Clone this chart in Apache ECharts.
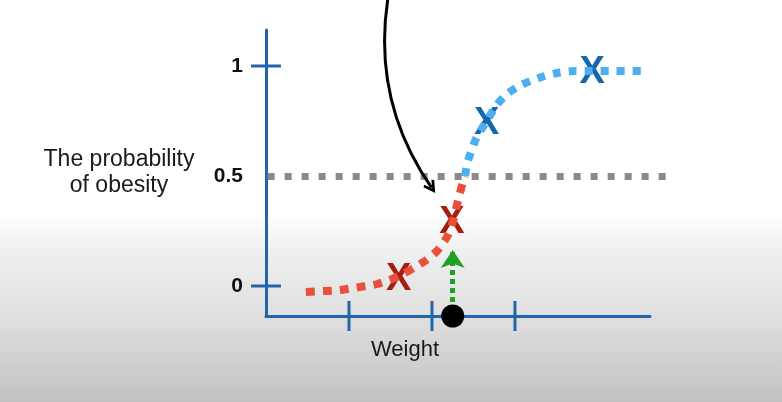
<!DOCTYPE html>
<html>
<head>
<meta charset="utf-8">
<script src="https://cdn.jsdelivr.net/npm/echarts@6/dist/echarts.min.js"></script>
<style>
  html, body { margin: 0; padding: 0; }
  #chart { width: 782px; height: 402px; }
</style>
</head>
<body>
<div id="chart"></div>
<script>
// fitted logistic curve, split at the 0.5 threshold
const redCurve = [
  [0.48, -0.027], [0.70, -0.023], [0.90, -0.018], [1.12, -0.005], [1.34, 0.009],
  [1.60, 0.045], [1.88, 0.105], [2.05, 0.155], [2.18, 0.223], [2.25, 0.291],
  [2.31, 0.382], [2.37, 0.468], [2.40, 0.50]
];
const blueCurve = [
  [2.40, 0.50], [2.42, 0.55], [2.47, 0.609], [2.54, 0.677], [2.66, 0.75],
  [2.78, 0.823], [2.92, 0.877], [3.08, 0.914], [3.28, 0.945], [3.51, 0.968],
  [3.72, 0.977], [3.93, 0.977], [4.14, 0.977], [4.59, 0.977]
];
// samples (X marks)
const notObese = [[1.60, 0.045], [2.24, 0.30]];
const obese = [[2.66, 0.75], [3.93, 0.982]];

const yLabels = [0, 0.5, 1];
const yTicks = [0, 1];
const xTicks = [1, 2, 3];
const threshold = 0.5;
const thresholdSpan = [0.02, 4.9];
const newWeight = 2.25;

const xMin = 0, xMax = 4.627;
const yMin = -0.1364, yMax = 1.1636;

// decoration arrows, in data units
const pointerArrow = [[1.47, 1.31], [1.995, 0.447]];
const liftArrow = [[newWeight, -0.073], [newWeight, 0.164]];

const axisBlue = '#1f67a8';
const font = '"Liberation Sans", Arial, sans-serif';

const chart = echarts.init(document.getElementById('chart'));

const xMark = (data, color) => ({
  type: 'scatter',
  data: data,
  symbolSize: 1,
  itemStyle: { color: 'transparent', opacity: 1 },
  label: {
    show: true, position: 'inside', formatter: 'X', offset: [0, 3],
    fontSize: 38, fontWeight: 'bold', color: color
  }
});

chart.setOption({
  animation: false,
  backgroundColor: {
    type: 'linear', x: 0, y: 0, x2: 0, y2: 1,
    colorStops: [
      { offset: 0, color: '#ffffff' },
      { offset: 0.53, color: '#ffffff' },
      { offset: 0.62, color: '#f0f0f0' },
      { offset: 0.78, color: '#e0e0e0' },
      { offset: 1, color: '#c2c2c2' }
    ]
  },
  textStyle: { fontFamily: font },
  grid: { left: 266, right: 132, top: 30, bottom: 86 },
  xAxis: {
    type: 'value',
    min: xMin,
    max: xMax,
    name: 'Weight',
    nameLocation: 'middle',
    nameGap: 23,
    nameTextStyle: { fontSize: 22, color: '#1a1a1a', padding: [0, 106, 0, 0] },
    axisLine: { onZero: false, lineStyle: { color: axisBlue, width: 3 } },
    axisTick: { show: false },
    axisLabel: { show: false },
    splitLine: { show: false }
  },
  yAxis: {
    type: 'value',
    min: yMin,
    max: yMax,
    name: 'The probability\nof obesity',
    nameLocation: 'middle',
    nameRotate: 0,
    nameGap: 147,
    nameTextStyle: { fontSize: 23, lineHeight: 26, color: '#1a1a1a', align: 'center' },
    axisLine: { show: true, lineStyle: { color: axisBlue, width: 3 } },
    axisTick: { show: false },
    axisLabel: {
      customValues: yLabels,
      margin: 23,
      fontSize: 21,
      fontWeight: 'bold',
      color: '#111'
    },
    splitLine: { show: false }
  },
  series: [
    {
      type: 'lines',
      coordinateSystem: 'cartesian2d',
      clip: false,
      lineStyle: { color: '#8a8a8a', width: 7, type: [7, 10], cap: 'butt', opacity: 1 },
      data: [{ coords: thresholdSpan.map(x => [x, threshold]) }]
    },
    {
      type: 'line',
      data: redCurve,
      smooth: 0.3,
      symbol: 'none',
      lineStyle: { color: '#e9503c', width: 8, type: [9, 8], cap: 'butt' }
    },
    {
      type: 'line',
      data: blueCurve,
      smooth: 0.3,
      symbol: 'none',
      lineStyle: { color: '#4cb0f0', width: 8, type: [8, 8], cap: 'butt' }
    },
    {
      type: 'lines',
      coordinateSystem: 'cartesian2d',
      clip: false,
      symbol: ['none', 'path://M10,0 L20,14 L16.6,16 L10,6.6 L3.4,16 L0,14 Z'],
      symbolSize: [14, 13],
      lineStyle: { color: '#000', width: 3, curveness: -0.2, opacity: 1 },
      data: [{ coords: pointerArrow }]
    },
    {
      type: 'lines',
      coordinateSystem: 'cartesian2d',
      clip: false,
      symbol: ['none', 'arrow'],
      symbolSize: [20, 18],
      lineStyle: { color: '#22a022', width: 5, type: [5, 4], cap: 'butt', opacity: 1 },
      data: [{ coords: liftArrow }]
    },
    xMark(notObese, '#a51d10'),
    xMark(obese, '#1866ab'),
    {
      // y axis tick marks crossing the axis
      type: 'scatter',
      data: yTicks.map(v => [xMin, v]),
      symbol: 'rect',
      symbolSize: [30, 3],
      clip: false,
      itemStyle: { color: axisBlue, opacity: 1 }
    },
    {
      // x axis tick marks crossing the axis
      type: 'scatter',
      data: xTicks.map(v => [v, yMin]),
      symbol: 'rect',
      symbolSize: [3, 30],
      clip: false,
      itemStyle: { color: axisBlue, opacity: 1 }
    },
    {
      type: 'scatter',
      data: [[newWeight, yMin]],
      symbol: 'circle',
      symbolSize: 23,
      clip: false,
      itemStyle: { color: '#000', opacity: 1 }
    }
  ]
});
</script>
</body>
</html>
